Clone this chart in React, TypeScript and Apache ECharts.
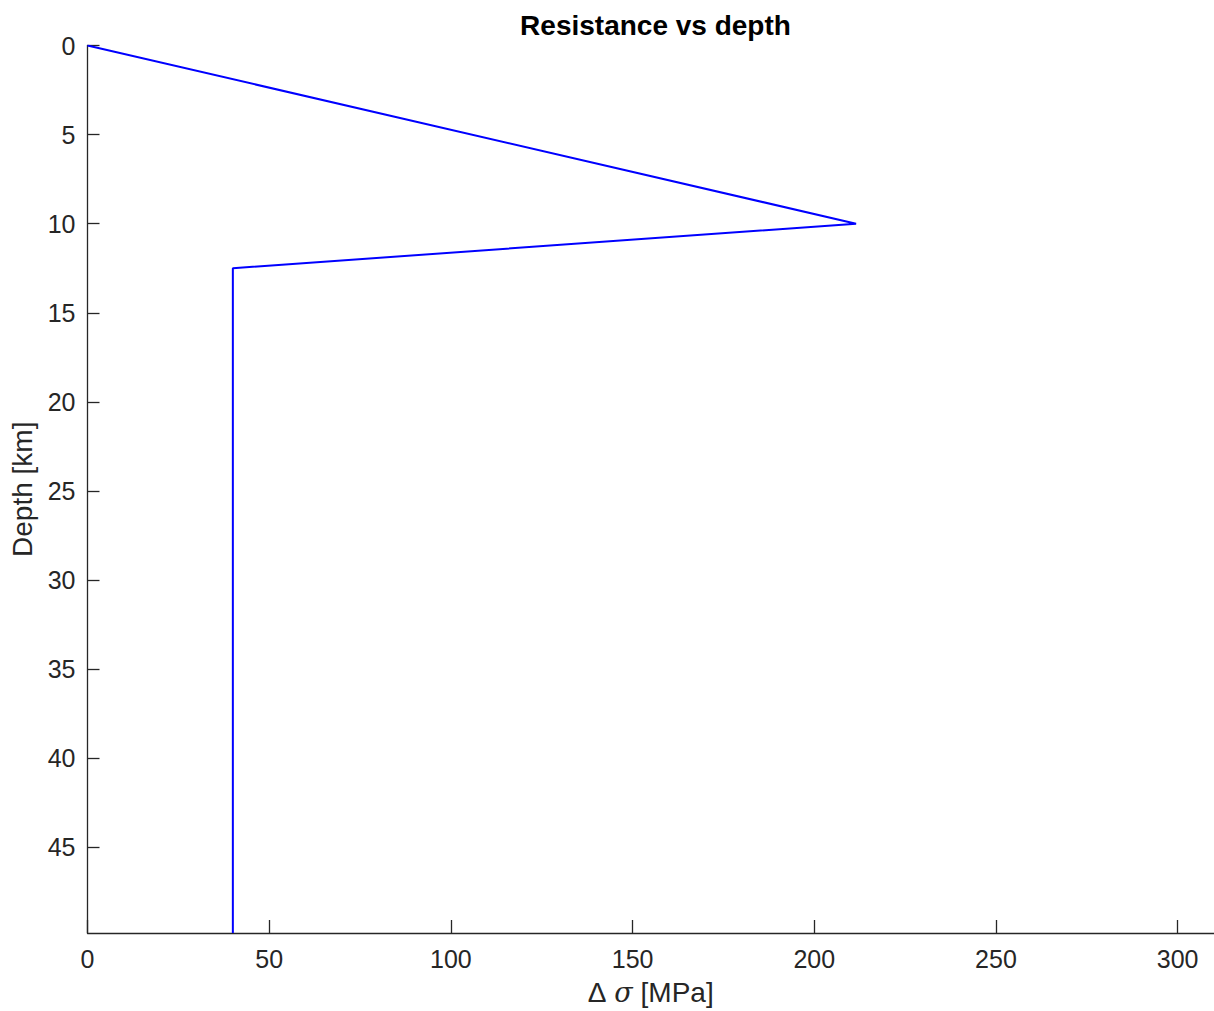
import React, { useEffect, useRef } from "react";
import * as echarts from "echarts";

const stressMPa = [0, 211.5, 40, 40];
const depthKm = [0, 10, 12.5, 49.8];
const xTicks = [0, 50, 100, 150, 200, 250, 300];
const yTicks = [0, 5, 10, 15, 20, 25, 30, 35, 40, 45];

const AXIS_COLOR = "#262626";
const FONT = "Liberation Sans, Arial, Helvetica, sans-serif";

export default function App() {
  const ref = useRef<HTMLDivElement>(null);
  useEffect(() => {
    if (!ref.current) return;
    const chart = echarts.init(ref.current, undefined, { renderer: "svg" });
    const data = stressMPa.map((x, i) => [x, depthKm[i]]);
    chart.setOption({
      animation: false,
      backgroundColor: "#ffffff",
      title: {
        text: "Resistance vs depth",
        left: 650.5,
        textAlign: "center",
        top: 6,
        textStyle: { fontFamily: FONT, fontSize: 28, fontWeight: "bold", color: "#000" },
      },
      grid: { left: 87.5, top: 45.5, right: 0, bottom: 71, containLabel: false },
      xAxis: {
        type: "value",
        min: 0,
        max: 310,
        interval: 50,
        name: "{g|Δ} {i|σ} [MPa]",
        nameLocation: "middle",
        nameGap: 45,
        nameTextStyle: {
          fontFamily: FONT,
          fontSize: 28,
          color: AXIS_COLOR,
          rich: {
            g: { fontFamily: FONT, fontSize: 28, color: AXIS_COLOR },
            i: { fontFamily: "DejaVu Serif, serif", fontStyle: "italic", fontSize: 27, color: AXIS_COLOR },
          },
        },
        axisLine: { show: true, onZero: false, lineStyle: { color: AXIS_COLOR, width: 1.3 } },
        axisTick: { show: true, inside: true, length: 13, customValues: xTicks, lineStyle: { color: AXIS_COLOR, width: 1.3 } },
        axisLabel: {
          customValues: xTicks,
          margin: 13,
          fontFamily: FONT,
          fontSize: 25,
          color: AXIS_COLOR,
        },
        splitLine: { show: false },
      },
      yAxis: {
        type: "value",
        inverse: true,
        min: 0,
        max: 49.8,
        interval: 5,
        name: "Depth [km]",
        nameLocation: "middle",
        nameGap: 51,
        nameTextStyle: { fontFamily: FONT, fontSize: 28, color: AXIS_COLOR },
        axisLine: { show: true, onZero: false, lineStyle: { color: AXIS_COLOR, width: 1.3 } },
        axisTick: { show: true, inside: true, length: 12, customValues: yTicks, lineStyle: { color: AXIS_COLOR, width: 1.3 } },
        axisLabel: {
          customValues: yTicks,
          margin: 12,
          fontFamily: FONT,
          fontSize: 25,
          color: AXIS_COLOR,
        },
        splitLine: { show: false },
      },
      series: [
        {
          type: "line",
          data,
          showSymbol: false,
          symbol: "none",
          lineStyle: { color: "#0000ff", width: 2 },
          clip: true,
        },
      ],
    });
    return () => chart.dispose();
  }, []);
  return (
    <div
      ref={ref}
      style={{ position: "fixed", left: 0, top: 0, width: 1214, height: 1011, background: "#fff" }}
    />
  );
}
